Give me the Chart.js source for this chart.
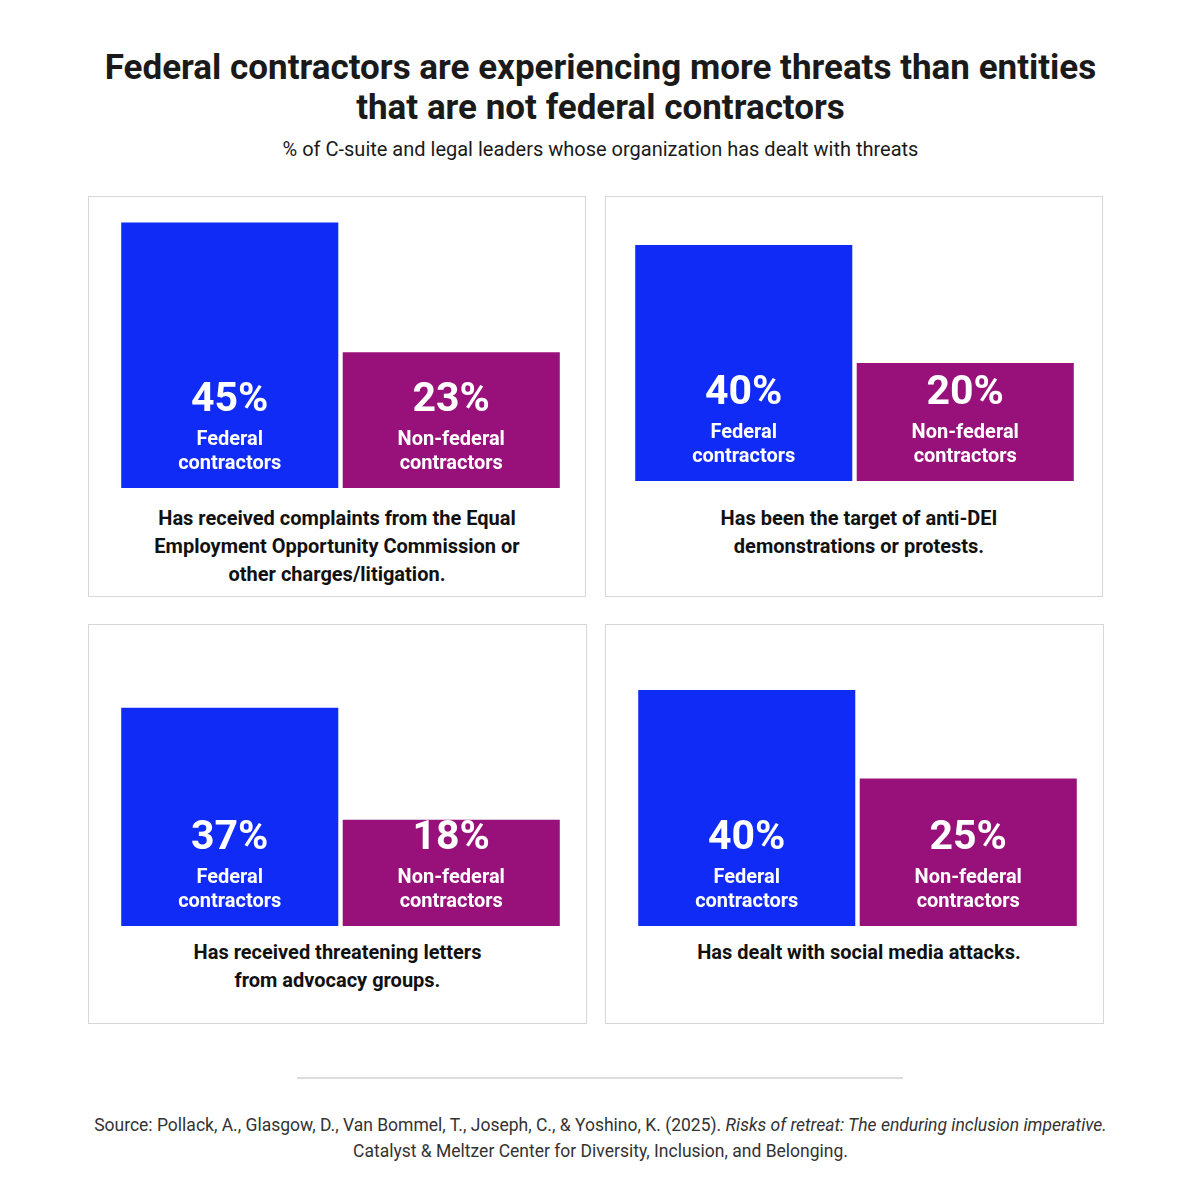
<!DOCTYPE html>
<html><head><meta charset="utf-8">
<script src="https://cdn.jsdelivr.net/npm/chart.js@4"></script>
<style>
body{margin:0;width:1201px;height:1198px;background:#fff;font-family:Roboto,sans-serif;color:#1a1a1a;position:relative;overflow:hidden}
.t{position:absolute;left:0;width:1201px;text-align:center}
.panel{position:absolute;border:1.5px solid #d6d6d6;box-sizing:border-box}
.cap{position:absolute;text-align:center;font-weight:700;font-size:20px;line-height:28px;color:#111}
.cv{position:absolute}
</style></head><body>
<div class="t" style="top:48px;font-size:35px;font-weight:700;line-height:40px">Federal contractors are experiencing more threats than entities<br>that are not federal contractors</div>
<div class="t" style="top:137px;font-size:20px">% of C-suite and legal leaders whose organization has dealt with threats</div>
<div class="panel" style="left:88px;top:196px;width:498px;height:401px"></div>
<div class="panel" style="left:605px;top:196px;width:498px;height:401px"></div>
<div class="panel" style="left:88px;top:624px;width:499px;height:400px"></div>
<div class="panel" style="left:605px;top:624px;width:499px;height:400px"></div>
<div class="cap" style="left:88px;width:498px;top:504px">Has received complaints from the Equal<br>Employment Opportunity Commission or<br>other charges/litigation.</div>
<div class="cap" style="left:605px;width:508px;top:504px">Has been the target of anti-DEI<br>demonstrations or protests.</div>
<div class="cap" style="left:88px;width:499px;top:938px">Has received threatening letters<br>from advocacy groups.</div>
<div class="cap" style="left:605px;width:508px;top:938px">Has dealt with social media attacks.</div>
<div style="position:absolute;left:297px;top:1077px;width:606px;height:2px;background:#ddd"></div>
<div class="t" style="top:1112px;font-size:17.5px;line-height:26px;color:#333">Source: Pollack, A., Glasgow, D., Van Bommel, T., Joseph, C., &amp; Yoshino, K. (2025). <i>Risks of retreat: The enduring inclusion imperative.</i><br>Catalyst &amp; Meltzer Center for Diversity, Inclusion, and Belonging.</div>
<canvas id="c0" class="cv"></canvas><canvas id="c1" class="cv"></canvas><canvas id="c2" class="cv"></canvas><canvas id="c3" class="cv"></canvas>
<script>
const groups=["Federal contractors","Non-federal contractors"];
const federalValues=[45,40,37,40];
const nonFederalValues=[23,20,18,25];
const colors=["#0f2bf5","#98117a"];
const pos=[{x:119,base:488},{x:633,base:481},{x:119,base:926},{x:636,base:926}];
const W=443,H=295;
const labelPlugin={id:'lbl',afterDatasetsDraw(ch){
  const ctx=ch.ctx;const meta=ch.getDatasetMeta(0);
  meta.data.forEach((b,i)=>{
    const v=ch.data.datasets[0].data[i];const base=b.base;
    ctx.save();ctx.fillStyle='#fff';ctx.textAlign='center';ctx.textBaseline='middle';
    ctx.font='700 41px Roboto';ctx.fillText(v+'%',b.x,base-87);
    ctx.font='700 20px Roboto';
    const w=groups[i].split(' ');
    ctx.fillText(w[0],b.x,base-48);ctx.fillText(w[1],b.x,base-24);
    ctx.restore();
  });
}};
pos.forEach((p,k)=>{
  const cv=document.getElementById('c'+k);
  cv.style.left=p.x+'px';cv.style.top=(p.base-H)+'px';cv.style.width=W+'px';cv.style.height=H+'px';
  cv.width=W;cv.height=H;
  new Chart(cv,{type:'bar',data:{labels:groups,datasets:[{data:[federalValues[k],nonFederalValues[k]],backgroundColor:colors,barPercentage:0.98,categoryPercentage:1}]},
  options:{responsive:false,animation:false,layout:{padding:0},plugins:{legend:{display:false},tooltip:{enabled:false}},
  scales:{x:{display:false},y:{display:false,min:0,max:50}}},plugins:[labelPlugin]});
});
</script>
</body></html>
